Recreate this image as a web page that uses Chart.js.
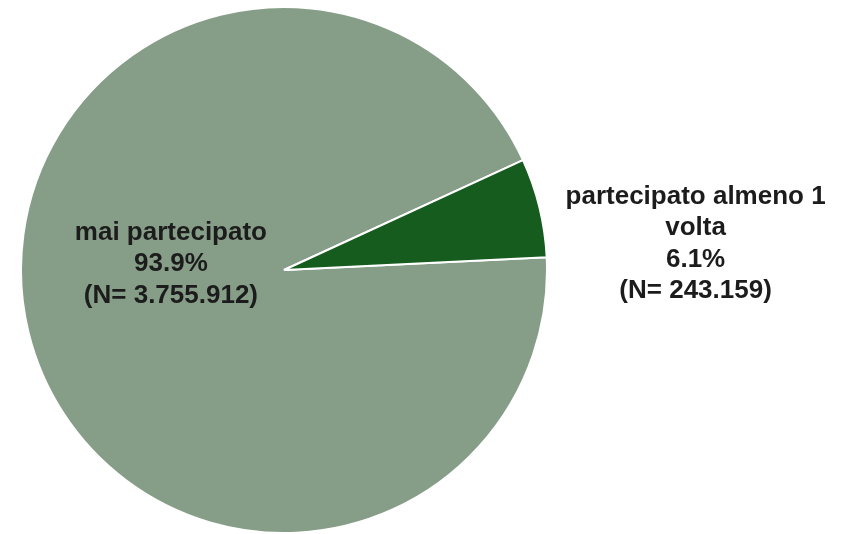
<!DOCTYPE html>
<html>
<head>
<meta charset="utf-8">
<script src="https://cdn.jsdelivr.net/npm/chart.js@4"></script>
<style>
  html, body { margin: 0; padding: 0; background: #ffffff; }
  #wrap { width: 856px; height: 534px; position: relative; }
</style>
</head>
<body>
<div id="wrap"><canvas id="c" width="856" height="534"></canvas></div>
<script>
const categories = ['mai partecipato', 'partecipato almeno 1 volta'];
const labelLines = [['mai partecipato'], ['partecipato almeno 1', 'volta']];
const counts = [3755912, 243159];
const percentLabels = ['93.9%', '6.1%'];
const countLabels = ['(N= 3.755.912)', '(N= 243.159)'];
const colors = ['#869E87', '#175C1F'];

// label anchor offsets in units of the pie radius, relative to the pie centre
const labelOffsets = [[-0.43, -0.022], [1.565, -0.099]];

const labelPlugin = {
  id: 'sliceLabels',
  afterDatasetsDraw(chart) {
    const ctx = chart.ctx;
    const meta = chart.getDatasetMeta(0);
    ctx.save();
    ctx.font = 'bold 26px "Liberation Sans", Arial, sans-serif';
    ctx.fillStyle = '#1c1c1c';
    ctx.textAlign = 'center';
    ctx.textBaseline = 'middle';
    const lh = 31.5;
    meta.data.forEach((arc, i) => {
      const r = arc.outerRadius;
      const cx = arc.x + labelOffsets[i][0] * r;
      const cy = arc.y + labelOffsets[i][1] * r;
      const lines = labelLines[i].concat([percentLabels[i], countLabels[i]]);
      const y0 = cy - (lines.length - 1) * lh / 2;
      lines.forEach((t, k) => ctx.fillText(t, cx, y0 + k * lh));
    });
    ctx.restore();
  }
};

new Chart(document.getElementById('c'), {
  type: 'pie',
  data: {
    labels: categories,
    datasets: [{
      data: counts,
      backgroundColor: colors,
      borderColor: '#ffffff',
      borderWidth: 2
    }]
  },
  options: {
    responsive: false,
    animation: false,
    rotation: 87.2,
    layout: { padding: { left: 20, top: 6, right: 308, bottom: 0 } },
    plugins: {
      legend: { display: false },
      tooltip: { enabled: false }
    }
  },
  plugins: [labelPlugin]
});
</script>
</body>
</html>
